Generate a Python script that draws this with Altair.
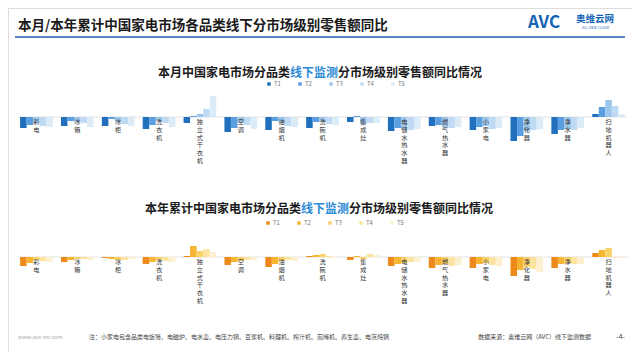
import altair as alt
import pandas as pd

FONT = "Noto Sans CJK SC"

categories = ["彩电", "冰箱", "冰柜", "洗衣机", "独立式干衣机", "空调", "油烟机", "洗碗机",
              "集成灶", "电储水热水器", "燃气热水器", "小家电", "净化器", "净水器", "扫地机器人"]
tiers = ["T1", "T2", "T3", "T4", "T5"]

# 本月 (month) year-on-year, % by tier
month_t1 = [-11, -9, -9, -12, -6, -15, -13, -11, -5, -14, -9, -13, -24, -17, 3]
month_t2 = [-8, -4, -2, -8, 1, -11, -4, -5, 1, -11, -8, -10, -19, -13, 10]
month_t3 = [-6, -5, -5, -4, 3, -6, -6, -5, -7, -12, -10, -9, -14, -12, 17]
month_t4 = [-9, -6, -7, -6, 8, -8, -9, -7, -6, -13, -11, -12, -13, -13, 11]
month_t5 = [-10, -10, -9, -10, 21, -12, -10, -8, -6, -12, -10, -11, -12, -11, 3]

# 本年累计 (YTD) year-on-year, % by tier
ytd_t1 = [-9, -5, -1, -7, 1, -8, -10, 1, -3, -9, -11, -11, -19, -11, 4]
ytd_t2 = [-6, -3, -2, -5, 11, -5, -7, 2, 1, -7, -8, -7, -13, -7, 7]
ytd_t3 = [-3, -2, -3, -3, 6, -4, -4, 3, -2, -6, -7, -6, -10, -6, 9]
ytd_t4 = [-4, -2, -3, -4, 8, -3, -3, 1, 3, -5, -9, -8, -12, -7, -1]
ytd_t5 = [-5, -3, -2, -5, 5, -3, -4, -1, 2, -5, -8, -9, -15, -7, -1]

blues = ["#2170BE", "#5C9FE0", "#9CC6EC", "#BFDAF2", "#DCEBF8"]
oranges = ["#EE8A1C", "#F6B530", "#F9D168", "#FCE3A0", "#FDF0D0"]

main_title = "本月/本年累计中国家电市场各品类线下分市场级别零售额同比"
sub1 = ["本月中国家电市场分品类", "线下监测", "分市场级别零售额同比情况"]
sub2 = ["本年累计中国家电市场分品类", "线下监测", "分市场级别零售额同比情况"]
footer_note = "注：小家电包含品类电饭煲、电磁炉、电水壶、电压力锅、豆浆机、料理机、榨汁机、煎烤机、养生壶、电蒸炖锅"


def long_df(series):
    rows = []
    for t, vals in zip(tiers, series):
        for c, v in zip(categories, vals):
            rows.append({"cat": c, "tier": t, "val": v})
    return pd.DataFrame(rows)


df_month = long_df([month_t1, month_t2, month_t3, month_t4, month_t5])
df_ytd = long_df([ytd_t1, ytd_t2, ytd_t3, ytd_t4, ytd_t5])
lab_df = pd.DataFrame({"cat": categories, "lbl": ["\n".join(list(c)) for c in categories]})

xscale = alt.Scale(domain=categories, range=[8, 621], paddingInner=0.2, paddingOuter=0.1)


def panel(df, yzero, colors, leg_x, leg_y, label_y):
    yscale = alt.Scale(domain=[-40, 40], range=[yzero + 40, yzero - 40])
    rule = alt.Chart(pd.DataFrame({"v": [0]})).mark_rule(color="#dcdcdc", strokeWidth=0.8).encode(
        y=alt.Y("v:Q", scale=yscale, axis=None), x=alt.value(10), x2=alt.value(620))
    bars = alt.Chart(df).mark_bar().encode(
        x=alt.X("cat:N", scale=xscale, axis=None, sort=categories),
        xOffset=alt.XOffset("tier:N", scale=alt.Scale(domain=tiers, paddingInner=0, paddingOuter=0), sort=tiers),
        y=alt.Y("val:Q", scale=yscale, axis=None),
        color=alt.Color("tier:N", scale=alt.Scale(domain=tiers, range=colors),
                        legend=alt.Legend(orient="none", legendX=leg_x, legendY=leg_y, direction="horizontal",
                                          columns=5, title=None, symbolType="square", symbolSize=12,
                                          symbolStrokeWidth=0, labelFontSize=6, labelColor="#777777",
                                          labelFont=FONT, columnPadding=16, labelOffset=2, padding=0)),
    )
    labels = alt.Chart(lab_df).mark_text(lineBreak="\n", baseline="top", align="center", fontSize=6.2,
                                         lineHeight=7.8, font=FONT, color="#333333").encode(
        x=alt.X("cat:N", scale=xscale, axis=None, sort=categories),
        y=alt.value(label_y), text="lbl:N")
    return alt.layer(rule, bars, labels)


def txt(s, x, y, size, color="#1a1a1a", weight="normal", align="left", baseline="middle"):
    return alt.Chart(pd.DataFrame({"t": [s]})).mark_text(
        fontSize=size, color=color, fontWeight=weight, align=align, baseline=baseline,
        font=FONT).encode(text="t:N", x=alt.value(x), y=alt.value(y))


def subtitle(parts, x, y, size=12):
    w0 = len(parts[0]) * size
    w1 = len(parts[1]) * size
    return [txt(parts[0], x, y, size, weight="bold"),
            txt(parts[1], x + w0, y, size, color="#2E8BD6", weight="bold"),
            txt(parts[2], x + w0 + w1, y, size, weight="bold")]


header_rule = alt.Chart(pd.DataFrame({"a": [0]})).mark_rule(color="#1F5FA8", strokeWidth=1.5).encode(
    x=alt.value(7), x2=alt.value(617), y=alt.value(29))

layers = [
    txt(main_title, 10, 18, 13.5, weight="bold"),
    header_rule,
    txt("AVC", 520, 15, 17, color="#1565B5", weight="bold"),
    txt("奥维云网", 568, 11, 9.5, color="#1565B5", weight="bold"),
    txt("ALL VIEW CLOUD", 574, 20, 3.5, color="#1565B5"),
    *subtitle(sub1, 150, 65),
    *subtitle(sub2, 137, 201),
    panel(df_month, 109, blues, 258, 73, 111),
    panel(df_ytd, 249, oranges, 257, 212, 251),
    txt("www.avc-mr.com", 10, 329, 5.5, color="#aaaaaa"),
    txt(footer_note, 81, 329, 6, color="#444444"),
    txt("数据来源：奥维云网（AVC）线下监测数据", 583, 329, 6, color="#444444", align="right"),
    txt("-4-", 617, 329, 7, color="#444444", align="right"),
]

chart = alt.layer(*layers).resolve_scale(y="independent", color="independent").properties(
    width=624, height=344, padding=0, autosize=alt.AutoSizeParams(type="none")
).configure_view(stroke=None).configure(background="white")

chart.save("out.html", embed_options={"renderer": "svg", "actions": False})
